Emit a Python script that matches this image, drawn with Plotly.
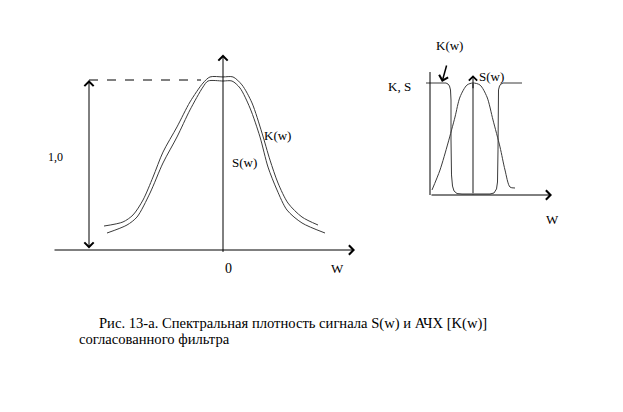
import plotly.graph_objects as go

# ---------------- Left diagram: S(w) and K(w), amplitude normalised to 1,0 ----------------
w_K = [-1.19, -1.00, -0.90, -0.80, -0.70, -0.60, -0.46, -0.33, -0.20, -0.13, 0.00,
       0.10, 0.19, 0.29, 0.39, 0.47, 0.55, 0.65, 0.79, 0.95]
K_left = [0.141, 0.165, 0.206, 0.294, 0.429, 0.576, 0.724, 0.871, 0.982, 1.018, 1.018,
          1.018, 0.971, 0.865, 0.688, 0.529, 0.394, 0.276, 0.194, 0.147]
w_S = [-1.16, -0.96, -0.86, -0.73, -0.60, -0.46, -0.33, -0.20, -0.15, 0.00, 0.09,
       0.17, 0.27, 0.37, 0.45, 0.54, 0.64, 0.79, 1.02]
S_left = [0.100, 0.147, 0.194, 0.335, 0.512, 0.665, 0.824, 0.959, 0.994, 0.994, 0.994,
          0.953, 0.835, 0.665, 0.488, 0.353, 0.235, 0.159, 0.100]
level_w = [-1.34, -0.22]      # dashed reference line at 1,0
level_y = [1.0, 1.0]
left_axis_w = [-1.70, 1.32]   # extent of horizontal axis
left_axis_top = 1.15          # top of vertical axis
marker_w = -1.34              # double arrow showing 1,0

# ---------------- Right diagram ----------------
u_K = [-1.175, -0.675, -0.625, -0.5875, -0.5625, -0.55, -0.55, -0.5375, -0.5125, -0.475, -0.40,
       -0.275, 0.425, 0.525, 0.5875, 0.6125, 0.625, 0.625, 0.6375, 0.6625, 0.70, 0.75, 1.225]
K_right = [1.0, 1.0, 0.991, 0.973, 0.9375, 0.848, 0.491, 0.179, 0.080, 0.036, 0.013,
           0.009, 0.009, 0.018, 0.054, 0.116, 0.402, 0.848, 0.938, 0.973, 0.991, 1.0, 1.0]
u_S = [-1.025, -0.825, -0.625, -0.45, -0.325, -0.15, 0.0, 0.175, 0.35, 0.50, 0.675,
       0.80, 0.925, 1.05]
S_right = [0.045, 0.223, 0.464, 0.696, 0.875, 0.982, 1.0, 0.982, 0.875, 0.670, 0.429,
           0.223, 0.071, 0.0625]
right_axis_u = [-1.075, 1.975]
right_axis_top = 1.098
center_top = 1.07
center_shaft_top = 1.0

caption_1 = "Рис. 13-а. Спектральная плотность сигнала S(w) и АЧХ [K(w)]"
caption_2 = "согласованного фильтра"

FONT = '"Liberation Serif", "Times New Roman", "DejaVu Serif", serif'
CURVE = "#3a3a3a"

fig = go.Figure()

# left curves
fig.add_trace(go.Scatter(x=w_K, y=K_left, mode="lines", line=dict(color=CURVE, width=1, shape="spline", smoothing=0.8),
                         xaxis="x", yaxis="y", hoverinfo="skip"))
fig.add_trace(go.Scatter(x=w_S, y=S_left, mode="lines", line=dict(color=CURVE, width=1, shape="spline", smoothing=0.8),
                         xaxis="x", yaxis="y", hoverinfo="skip"))
fig.add_trace(go.Scatter(x=level_w, y=level_y, mode="lines", line=dict(color="black", width=1, dash="dash"),
                         xaxis="x", yaxis="y", hoverinfo="skip"))

# right curves
fig.add_trace(go.Scatter(x=u_K, y=K_right, mode="lines", line=dict(color=CURVE, width=1),
                         xaxis="x2", yaxis="y2", hoverinfo="skip"))
fig.add_trace(go.Scatter(x=u_S, y=S_right, mode="lines", line=dict(color=CURVE, width=1, shape="spline", smoothing=0.8),
                         xaxis="x2", yaxis="y2", hoverinfo="skip"))
fig.add_trace(go.Scatter(x=[right_axis_u[0], right_axis_u[0]], y=[0, right_axis_top], mode="lines",
                         line=dict(color="black", width=1), xaxis="x2", yaxis="y2", hoverinfo="skip"))
# grey centre shaft
fig.add_trace(go.Scatter(x=[0, 0], y=[0, center_shaft_top], mode="lines",
                         line=dict(color="#8c8c8c", width=2), xaxis="x2", yaxis="y2", hoverinfo="skip"))

ann = []
def arrow(x, y, ax, ay, ref, side="end", color="black", width=1, size=1.8):
    ann.append(dict(x=x, y=y, ax=ax, ay=ay, xref="x" + ref, yref="y" + ref,
                    axref="x" + ref, ayref="y" + ref, showarrow=True, arrowhead=4,
                    arrowside=side, arrowsize=size, arrowwidth=width, arrowcolor=color,
                    startarrowhead=4, startarrowsize=size, text=""))

def label(x, y, text, ref, size=12, xanchor="center"):
    ann.append(dict(x=x, y=y, xref="x" + ref, yref="y" + ref, text=text, showarrow=False,
                    xanchor=xanchor, yanchor="middle", font=dict(family=FONT, size=size, color="black")))

# left axes
arrow(left_axis_w[1], 0, left_axis_w[0], 0, "")
arrow(0, left_axis_top, 0, -0.02, "")
arrow(marker_w, 1.0, marker_w, 0, "", side="end+start")
label(-1.68, 0.547, "1,0", "", 12)
label(0.05, -0.106, "0", "", 14)
label(1.14, -0.106, "W", "", 13)
label(0.54, 0.676, "K(w)", "", 13)
label(0.21, 0.512, "S(w)", "", 13)

# right axes
arrow(right_axis_u[1], 0, right_axis_u[0], 0, "2")
arrow(0, center_top, 0, center_shaft_top - 0.06, "2", width=1, size=1.6)
arrow(-0.775, 1.009, -0.65, 1.17, "2", width=1.5, size=1.2)
label(-0.6, 1.339, "K(w)", "2", 13)
label(-1.85, 0.973, "K, S", "2", 13)
label(0.45, 1.054, "S(w)", "2", 13)
label(1.975, -0.223, "W", "2", 13)

# caption
ann.append(dict(x=97 / 623, y=1 - 323 / 412, xref="paper", yref="paper", text=caption_1, showarrow=False,
                xanchor="left", yanchor="middle", font=dict(family=FONT, size=14.6, color="black")))
ann.append(dict(x=77 / 623, y=1 - 339 / 412, xref="paper", yref="paper", text=caption_2, showarrow=False,
                xanchor="left", yanchor="middle", font=dict(family=FONT, size=14.6, color="black")))

hidden = dict(visible=False, fixedrange=True)
fig.update_layout(
    width=623, height=412, margin=dict(l=0, r=0, t=0, b=0),
    paper_bgcolor="white", plot_bgcolor="white", showlegend=False,
    font=dict(family=FONT),
    xaxis=dict(domain=[0, 1], range=[-2.23, 4.0], **hidden),
    yaxis=dict(domain=[0, 1], range=[-0.9529, 1.4706], **hidden),
    xaxis2=dict(domain=[0, 1], range=[-11.825, 3.75], overlaying="x", **hidden),
    yaxis2=dict(domain=[0, 1], range=[-1.9375, 1.7411], overlaying="y", **hidden),
    annotations=ann,
)

fig.write_html("out.html", config={"staticPlot": True},
               post_script="document.body.style.margin='0';")
